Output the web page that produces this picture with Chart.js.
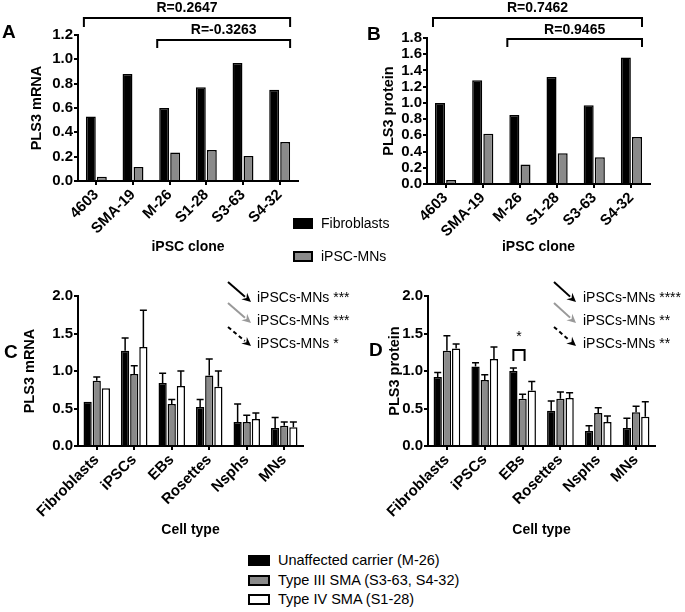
<!DOCTYPE html>
<html>
<head>
<meta charset="utf-8">
<script src="https://cdn.jsdelivr.net/npm/chart.js@4.4.1/dist/chart.umd.min.js"></script>
<style>
  body { margin: 0; background: #fff; }
  #fig { position: relative; width: 685px; height: 612px; overflow: hidden; font-family: "Liberation Sans", Arial, sans-serif; color: #000; }
  canvas { position: absolute; }
  .letter { position: absolute; font-weight: bold; font-size: 19px; line-height: 1; }
  .leg { position: absolute; display: flex; align-items: center; white-space: nowrap; line-height: 1; }
  .sw { box-sizing: border-box; border: 2px solid #000; margin-right: 8px; }
</style>
</head>
<body>
<div id="fig">
  <canvas id="chartA" width="340" height="265" style="left:0;top:0"></canvas>
  <canvas id="chartB" width="345" height="265" style="left:340px;top:0"></canvas>
  <canvas id="chartC" width="370" height="290" style="left:0;top:260px"></canvas>
  <canvas id="chartD" width="345" height="290" style="left:340px;top:260px"></canvas>
  <div class="letter" style="left:2px;top:22px">A</div>
  <div class="letter" style="left:367px;top:24px">B</div>
  <div class="letter" style="left:4px;top:342px">C</div>
  <div class="letter" style="left:369px;top:340px">D</div>
  <div id="legendTop"></div>
  <div id="legendBottom"></div>
</div>
<script>
document.addEventListener("DOMContentLoaded", function() {
    const FONT = '"Liberation Sans", Arial, sans-serif';
    Chart.defaults.font.family = FONT;
    Chart.defaults.color = "#000";

    // Panels A/B: per clone
    const clones = ["4603", "SMA-19", "M-26", "S1-28", "S3-63", "S4-32"];
    const seriesAB = ["Fibroblasts", "iPSC-MNs"];
    const mrnaFibro = [0.53, 0.88, 0.60, 0.77, 0.97, 0.75];
    const mrnaMN = [0.035, 0.115, 0.235, 0.255, 0.205, 0.32];
    const protFibro = [1.00, 1.28, 0.85, 1.32, 0.97, 1.56];
    const protMN = [0.05, 0.62, 0.24, 0.38, 0.33, 0.58];

    // Panels C/D: per cell type (mean + upper SEM)
    const cellTypes = ["Fibroblasts", "iPSCs", "EBs", "Rosettes", "Nsphs", "MNs"];
    const seriesCD = ["Unaffected carrier (M-26)", "Type III SMA (S3-63, S4-32)", "Type IV SMA (S1-28)"];
    const mrnaCarrier = [0.59, 1.27, 0.84, 0.52, 0.32, 0.24];
    const mrnaCarrierErr = [0, 0.17, 0.13, 0.10, 0.24, 0.14];
    const mrnaType3 = [0.87, 0.96, 0.56, 0.94, 0.32, 0.27];
    const mrnaType3Err = [0.05, 0.11, 0.06, 0.22, 0.09, 0.05];
    const mrnaType4 = [0.77, 1.32, 0.80, 0.79, 0.36, 0.25];
    const mrnaType4Err = [0, 0.49, 0.20, 0.21, 0.08, 0.07];
    const protCarrier = [0.92, 1.06, 1.00, 0.47, 0.20, 0.24];
    const protCarrierErr = [0.06, 0.05, 0.04, 0.13, 0.07, 0.13];
    const protType3 = [1.27, 0.88, 0.63, 0.63, 0.44, 0.45];
    const protType3Err = [0.20, 0.07, 0.06, 0.09, 0.07, 0.08];
    const protType4 = [1.30, 1.16, 0.74, 0.64, 0.32, 0.39];
    const protType4Err = [0.06, 0.16, 0.12, 0.07, 0.08, 0.20];

    const fills = ["#000000", "#8a8a8a", "#ffffff"];

    // error bars, brackets, arrows
    const annot = {
        id: "annot",
        afterDatasetsDraw(chart) {
            const ctx = chart.ctx;
            const yScale = chart.scales.y;
            chart.data.datasets.forEach((ds, di) => {
                if (!ds.errors) return;
                chart.getDatasetMeta(di).data.forEach((bar, i) => {
                    const e = ds.errors[i];
                    if (!e) return;
                    const top = yScale.getPixelForValue(ds.data[i] + e);
                    ctx.save();
                    ctx.strokeStyle = "#000";
                    ctx.lineWidth = 1.5;
                    ctx.beginPath();
                    ctx.moveTo(bar.x, bar.y);
                    ctx.lineTo(bar.x, top);
                    ctx.moveTo(bar.x - 3.5, top);
                    ctx.lineTo(bar.x + 3.5, top);
                    ctx.stroke();
                    ctx.restore();
                });
            });
        },
        afterDraw(chart, args, o) {
            const ctx = chart.ctx;
            const nSets = chart.data.datasets.length;
            ctx.save();
            ctx.textBaseline = "middle";
            (o.brackets || []).forEach(b => {
                const first = chart.getDatasetMeta(0).data[b.from];
                const last = chart.getDatasetMeta(nSets - 1).data[b.to];
                const x1 = first.x - first.width / 2 - 2;
                const x2 = last.x + last.width / 2;
                ctx.strokeStyle = "#000";
                ctx.lineWidth = 2;
                ctx.beginPath();
                ctx.moveTo(x1, b.legY);
                ctx.lineTo(x1, b.y);
                ctx.lineTo(x2, b.y);
                ctx.lineTo(x2, b.legY);
                ctx.stroke();
                ctx.fillStyle = "#000";
                ctx.textAlign = "center";
                ctx.font = "bold 14px " + FONT;
                ctx.fillText(b.label, (x1 + x2) / 2, b.textY);
            });
            (o.sigs || []).forEach(s => {
                const a = chart.getDatasetMeta(s.setA).data[s.index];
                const b = chart.getDatasetMeta(s.setB).data[s.index];
                ctx.strokeStyle = "#000";
                ctx.lineWidth = 2;
                ctx.beginPath();
                ctx.moveTo(a.x, s.legY);
                ctx.lineTo(a.x, s.y);
                ctx.lineTo(b.x + 2, s.y);
                ctx.lineTo(b.x + 2, s.legY);
                ctx.stroke();
                ctx.fillStyle = "#000";
                ctx.textAlign = "center";
                ctx.font = "14px " + FONT;
                ctx.fillText(s.label, (a.x + b.x + 2) / 2, s.textY);
            });
            (o.arrows || []).forEach(a => {
                const ang = Math.atan2(a.y2 - a.y1, a.x2 - a.x1);
                const hl = 10;
                ctx.strokeStyle = a.color;
                ctx.fillStyle = a.color;
                ctx.lineWidth = 2;
                ctx.setLineDash(a.dash ? [4, 3] : []);
                ctx.beginPath();
                ctx.moveTo(a.x1, a.y1);
                ctx.lineTo(a.x2 - hl * 0.8 * Math.cos(ang), a.y2 - hl * 0.8 * Math.sin(ang));
                ctx.stroke();
                ctx.setLineDash([]);
                ctx.beginPath();
                ctx.moveTo(a.x2, a.y2);
                ctx.lineTo(a.x2 - hl * Math.cos(ang - 0.45), a.y2 - hl * Math.sin(ang - 0.45));
                ctx.lineTo(a.x2 - hl * 0.6 * Math.cos(ang), a.y2 - hl * 0.6 * Math.sin(ang));
                ctx.lineTo(a.x2 - hl * Math.cos(ang + 0.45), a.y2 - hl * Math.sin(ang + 0.45));
                ctx.closePath();
                ctx.fill();
                ctx.fillStyle = "#000";
                ctx.textAlign = "left";
                ctx.font = "14px " + FONT;
                ctx.fillText(a.label, a.tx, a.ty);
            });
            ctx.restore();
        }
    };

    function barSet(label, data, fill, errors, catPct) {
        return {
            label: label, data: data, errors: errors,
            backgroundColor: fill, borderColor: "#000", borderWidth: 1.5,
            categoryPercentage: catPct, barPercentage: 0.9
        };
    }

    function axisLine() {
        return {
            grid: { display: true, drawOnChartArea: false, drawTicks: true, tickLength: 4, color: "#000", lineWidth: 2, offset: false },
            border: { display: true, color: "#000", width: 2 }
        };
    }

    function makeChart(id, labels, datasets, c) {
        const xAxis = axisLine();
        xAxis.ticks = { font: { size: 15, weight: "bold" }, minRotation: 45, maxRotation: 45, autoSkip: false, padding: 1 };
        xAxis.title = { display: true, text: c.xTitle, font: { size: 14, weight: "bold" }, padding: { top: 0, bottom: c.xTitlePad } };
        xAxis.afterFit = s => { s.height = c.xHeight; };
        const yAxis = axisLine();
        yAxis.min = 0;
        yAxis.max = c.yMax;
        yAxis.ticks = { stepSize: c.step, autoSkip: false, font: { size: 15, weight: "bold" }, padding: 1, callback: v => v.toFixed(1) };
        yAxis.title = { display: true, text: c.yTitle, font: { size: 14.5, weight: "bold" }, padding: { top: 0, bottom: 0 } };
        yAxis.afterFit = s => { s.width = c.yWidth; };
        return new Chart(document.getElementById(id), {
            type: "bar",
            data: { labels: labels, datasets: datasets },
            options: {
                responsive: false,
                animation: false,
                layout: { padding: { left: c.padLeft, right: c.padRight, top: c.top, bottom: 0 } },
                plugins: { legend: { display: false }, tooltip: { enabled: false }, annot: c.annot },
                scales: { x: xAxis, y: yAxis }
            },
            plugins: [annot]
        });
    }

    // A
    makeChart("chartA", clones, [
        barSet(seriesAB[0], mrnaFibro, fills[0], null, 0.6),
        barSet(seriesAB[1], mrnaMN, fills[1], null, 0.6)
    ], {
        xTitle: "iPSC clone", yTitle: "PLS3 mRNA", yMax: 1.2, step: 0.2,
        padLeft: 28, yWidth: 50, padRight: 42, top: 35, xHeight: 84, xTitlePad: 9,
        annot: { brackets: [
            { from: 0, to: 5, y: 18, legY: 27, textY: 8, label: "R=0.2647" },
            { from: 2, to: 5, y: 40, legY: 48, textY: 30, label: "R=-0.3263" }
        ] }
    });

    // B
    makeChart("chartB", clones, [
        barSet(seriesAB[0], protFibro, fills[0], null, 0.6),
        barSet(seriesAB[1], protMN, fills[1], null, 0.6)
    ], {
        xTitle: "iPSC clone", yTitle: "PLS3 protein", yMax: 1.8, step: 0.2,
        padLeft: 40, yWidth: 47, padRight: 35, top: 38, xHeight: 81, xTitlePad: 9,
        annot: { brackets: [
            { from: 0, to: 5, y: 18, legY: 27, textY: 8, label: "R=0.7462" },
            { from: 2, to: 5, y: 39, legY: 47, textY: 30, label: "R=0.9465" }
        ] }
    });

    const arrowSet = (x1, x2, tx, labels) => [
        { x1: x1, y1: 22, x2: x2, y2: 42, color: "#000", dash: false, tx: tx, ty: 38, label: labels[0] },
        { x1: x1, y1: 43, x2: x2, y2: 63, color: "#999", dash: false, tx: tx, ty: 61, label: labels[1] },
        { x1: x1, y1: 67, x2: x2, y2: 86, color: "#000", dash: true, tx: tx, ty: 84, label: labels[2] }
    ];

    // C
    makeChart("chartC", cellTypes, [
        barSet(seriesCD[0], mrnaCarrier, fills[0], mrnaCarrierErr, 0.73),
        barSet(seriesCD[1], mrnaType3, fills[1], mrnaType3Err, 0.73),
        barSet(seriesCD[2], mrnaType4, fills[2], mrnaType4Err, 0.73)
    ], {
        xTitle: "Cell type", yTitle: "PLS3 mRNA", yMax: 2.0, step: 0.5,
        padLeft: 21, yWidth: 57, padRight: 67, top: 36, xHeight: 104, xTitlePad: 11,
        annot: { arrows: arrowSet(228, 251, 257, ["iPSCs-MNs ***", "iPSCs-MNs ***", "iPSCs-MNs *"]) }
    });

    // D
    makeChart("chartD", cellTypes, [
        barSet(seriesCD[0], protCarrier, fills[0], protCarrierErr, 0.73),
        barSet(seriesCD[1], protType3, fills[1], protType3Err, 0.73),
        barSet(seriesCD[2], protType4, fills[2], protType4Err, 0.73)
    ], {
        xTitle: "Cell type", yTitle: "PLS3 protein", yMax: 2.0, step: 0.5,
        padLeft: 46, yWidth: 42, padRight: 30, top: 36, xHeight: 104, xTitlePad: 11,
        annot: {
            arrows: arrowSet(214, 236, 243, ["iPSCs-MNs ****", "iPSCs-MNs **", "iPSCs-MNs **"]),
            sigs: [{ setA: 0, setB: 1, index: 2, y: 90, legY: 101, textY: 77, label: "*" }]
        }
    });

    // legends
    function legendRows(holderId, names, colors, left, tops, sw, fontSize) {
        const holder = document.getElementById(holderId);
        names.forEach((name, i) => {
            const row = document.createElement("div");
            row.className = "leg";
            row.style.left = left + "px";
            row.style.top = tops[i] + "px";
            row.style.fontSize = fontSize + "px";
            row.innerHTML = `<span class="sw" style="width:${sw[0]}px;height:${sw[1]}px;background:${colors[i]}"></span><span>${name}</span>`;
            holder.appendChild(row);
        });
    }
    legendRows("legendTop", seriesAB, fills, 293, [216, 249], [20, 11], 14);
    legendRows("legendBottom", seriesCD, fills, 248, [553, 573, 592], [22, 11], 14.5);
});
</script>
</body>
</html>
